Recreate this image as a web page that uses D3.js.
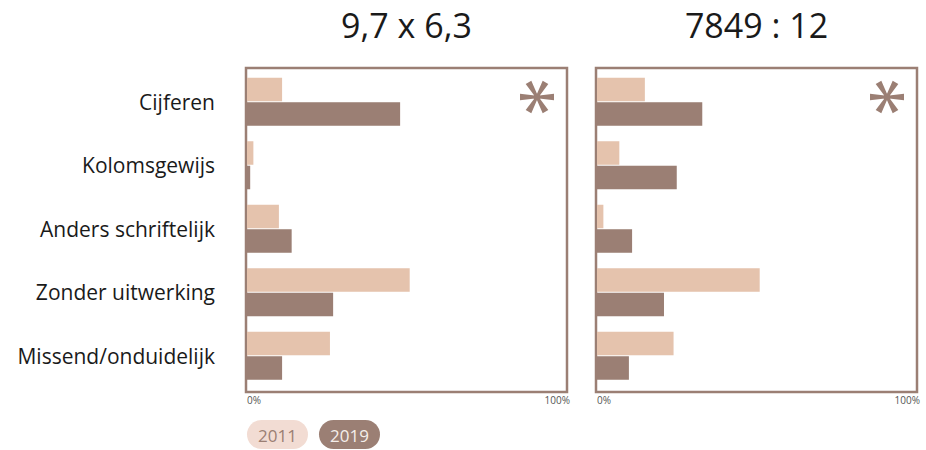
<!DOCTYPE html>
<html>
<head>
<meta charset="utf-8">
<script src="https://cdn.jsdelivr.net/npm/d3@7"></script>
<style>
  body { margin: 0; background: #fff; }
  text { font-family: "Open Sans", sans-serif; }
</style>
</head>
<body>
<script>
// data (percentages)
var categories = ["Cijferen", "Kolomsgewijs", "Anders schriftelijk", "Zonder uitwerking", "Missend/onduidelijk"];
var years = ["2011", "2019"];
var panel_titles = ["9,7 x 6,3", "7849 : 12"];
var values_left_2011 = [11, 2, 10, 51, 26];
var values_left_2019 = [48, 1, 14, 27, 11];
var values_right_2011 = [15, 7, 2, 51, 24];
var values_right_2019 = [33, 25, 11, 21, 10];
var x_ticks = ["0%", "100%"];

var colors = {"2011": "#e5c3ad", "2019": "#9b7f74"};
var frame_color = "#9b7f74";

var svg = d3.select("body").append("svg")
    .attr("width", 926)
    .attr("height", 450);

var top_y = 68, bottom_y = 392;

var y_scale = d3.scaleBand()
    .domain(categories)
    .range([70, 387.5])
    .paddingInner(0.244)
    .paddingOuter(0.122);

var y_inner = d3.scaleBand()
    .domain(years)
    .range([0, y_scale.bandwidth()])
    .paddingInner(0.04);

// category labels
svg.append("g").selectAll("text")
  .data(categories)
  .enter().append("text")
  .attr("x", 215)
  .attr("y", function(d) { return y_scale(d) + y_scale.bandwidth() / 2; })
  .attr("text-anchor", "end")
  .attr("dominant-baseline", "central")
  .style("font-size", "21px")
  .attr("fill", "#1a1a1a")
  .text(function(d) { return d; });

// six-armed asterisk, arms wider at the tips
function asterisk_path(r, w_in, w_out) {
  var p = "";
  for (var k = 0; k < 6; k++) {
    var a = k * Math.PI / 3;
    var c = Math.cos(a), s = Math.sin(a);
    var nx = -s, ny = c;
    var pts = [
      [nx * w_in / 2, ny * w_in / 2],
      [r * c + nx * w_out / 2, r * s + ny * w_out / 2],
      [r * c - nx * w_out / 2, r * s - ny * w_out / 2],
      [-nx * w_in / 2, -ny * w_in / 2]
    ];
    p += "M" + pts.map(function(q) { return q[0].toFixed(2) + "," + q[1].toFixed(2); }).join("L") + "Z";
  }
  return p;
}

var panels = [
  {title: panel_titles[0], left: 247, right: 566, v2011: values_left_2011, v2019: values_left_2019},
  {title: panel_titles[1], left: 597, right: 916, v2011: values_right_2011, v2019: values_right_2019}
];

panels.forEach(function(p) {
  var x_scale = d3.scaleLinear().domain([0, 100]).range([p.left, p.right]);
  var g = svg.append("g");

  g.append("text")
    .attr("x", (p.left + p.right) / 2)
    .attr("y", 38)
    .attr("text-anchor", "middle")
    .style("font-size", "34px")
    .attr("fill", "#1a1a1a")
    .text(p.title);

  g.append("rect")
    .attr("x", x_scale(0) - 1)
    .attr("y", top_y)
    .attr("width", x_scale(100) - x_scale(0) + 2)
    .attr("height", bottom_y - top_y)
    .attr("fill", "none")
    .attr("stroke", frame_color)
    .attr("stroke-width", 2.5);

  years.forEach(function(yr) {
    var vals = yr == "2011" ? p.v2011 : p.v2019;
    g.append("g").selectAll("rect")
      .data(categories)
      .enter().append("rect")
      .attr("x", x_scale(0))
      .attr("y", function(d) { return y_scale(d) + y_inner(yr); })
      .attr("width", function(d, i) { return x_scale(vals[i]) - x_scale(0); })
      .attr("height", y_inner.bandwidth())
      .attr("fill", colors[yr]);
  });

  g.append("path")
    .attr("transform", "translate(" + (x_scale(100) - 29) + ",97)")
    .attr("d", asterisk_path(17, 2.5, 6.5))
    .attr("fill", frame_color);

  g.append("text")
    .attr("x", x_scale(0))
    .attr("y", 404)
    .style("font-size", "10px")
    .attr("fill", "#555")
    .text(x_ticks[0]);
  g.append("text")
    .attr("x", x_scale(100) + 4)
    .attr("y", 404)
    .attr("text-anchor", "end")
    .style("font-size", "10px")
    .attr("fill", "#555")
    .text(x_ticks[1]);
});

// legend pills
var legend = svg.append("g").attr("transform", "translate(247,420)");
var pill = legend.selectAll("g")
  .data(years)
  .enter().append("g")
  .attr("transform", function(d, i) { return "translate(" + (i * 72) + ",0)"; });
pill.append("rect")
  .attr("width", 61)
  .attr("height", 29)
  .attr("rx", 14.5)
  .attr("fill", function(d) { return d == "2011" ? "#f2dcd3" : "#9b7f74"; });
pill.append("text")
  .attr("x", 30.5)
  .attr("y", 15)
  .attr("text-anchor", "middle")
  .attr("dominant-baseline", "central")
  .style("font-size", "17px")
  .attr("fill", function(d) { return d == "2011" ? "#9b7f74" : "#f5eeea"; })
  .text(function(d) { return d; });
</script>
</body>
</html>
